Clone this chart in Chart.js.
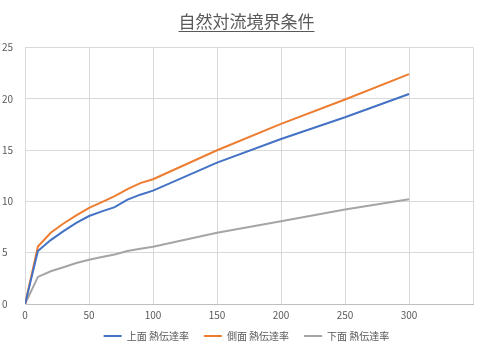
<!DOCTYPE html>
<html>
<head>
<meta charset="utf-8">
<script src="https://cdn.jsdelivr.net/npm/chart.js@4"></script>
<style>
  html, body { margin: 0; padding: 0; background: #fff; }
  #wrap { width: 491px; height: 351px; }
</style>
</head>
<body>
<div id="wrap"><canvas id="chart"></canvas></div>
<script>
// temperature difference (x) and heat transfer coefficients
const xValues = [0, 10, 20, 30, 40, 50, 60, 70, 80, 90, 100, 150, 200, 250, 300];
const topFace = [0, 5.17, 6.23, 7.1, 7.9, 8.57, 9.02, 9.44, 10.17, 10.65, 11.04, 13.77, 16.08, 18.19, 20.46];
const sideFace = [0, 5.6, 6.94, 7.84, 8.63, 9.37, 9.92, 10.5, 11.2, 11.78, 12.16, 14.98, 17.55, 19.92, 22.4];
const bottomFace = [0, 2.64, 3.19, 3.58, 3.99, 4.31, 4.57, 4.82, 5.17, 5.38, 5.58, 6.94, 8.06, 9.2, 10.2];
const seriesNames = ['上面 熱伝達率', '側面 熱伝達率', '下面 熱伝達率'];
const seriesColors = ['#4472C4', '#ED7D31', '#A5A5A5'];
const titleText = '自然対流境界条件';

const FONT = '"Noto Sans CJK JP", "Noto Sans", sans-serif';
const textColor = '#595959';

function toPoints(ys) {
    return xValues.map((x, i) => ({ x: x, y: ys[i] }));
}

// Chart.js has no underline option for the title, so draw one
const titleUnderline = {
    id: 'titleUnderline',
    afterDraw(chart) {
        const tb = chart.titleBlock;
        if (!tb) return;
        const ctx = chart.ctx;
        ctx.save();
        ctx.font = '17px ' + FONT;
        const w = ctx.measureText(titleText).width;
        const cx = (tb.left + tb.right) / 2;
        const y = tb.top + 30;
        ctx.strokeStyle = textColor;
        ctx.lineWidth = 1;
        ctx.beginPath();
        ctx.moveTo(cx - w / 2, y + 0.5);
        ctx.lineTo(cx + w / 2, y + 0.5);
        ctx.stroke();
        ctx.restore();
    }
};

const datasets = [topFace, sideFace, bottomFace].map((ys, i) => ({
    label: seriesNames[i],
    data: toPoints(ys),
    borderColor: seriesColors[i],
    backgroundColor: seriesColors[i],
    borderWidth: 2,
    pointRadius: 0,
    tension: 0,
    fill: false
}));

new Chart(document.getElementById('chart'), {
    type: 'line',
    data: { datasets },
    options: {
        responsive: true,
        maintainAspectRatio: false,
        animation: false,
        layout: { padding: { left: 2, right: 0, top: 1, bottom: 0 } },
        scales: {
            x: {
                type: 'linear',
                min: 0, max: 350,
                ticks: {
                    stepSize: 50,
                    color: textColor,
                    font: { family: FONT, size: 10 },
                    padding: 5,
                    callback: v => (v === 350 ? '' : v)
                },
                grid: { color: '#d9d9d9', drawTicks: false },
                border: { color: '#bfbfbf' }
            },
            y: {
                min: 0, max: 25,
                ticks: {
                    stepSize: 5,
                    color: textColor,
                    font: { family: FONT, size: 10 },
                    padding: 6,
                    crossAlign: 'far'
                },
                grid: { color: '#d9d9d9', drawTicks: false },
                border: { color: '#d9d9d9' }
            },
            // empty right-hand spacer so the title stays centred on the canvas
            spacer: {
                type: 'linear',
                position: 'right',
                min: 0, max: 1,
                grid: { display: false },
                border: { display: false },
                ticks: { display: false },
                afterFit: s => { s.width = 18; }
            }
        },
        plugins: {
            title: {
                display: true,
                text: titleText,
                color: textColor,
                font: { family: FONT, size: 17, weight: 'normal' },
                padding: { top: 10, bottom: 16 }
            },
            legend: {
                position: 'bottom',
                labels: {
                    usePointStyle: true,
                    pointStyle: 'line',
                    pointStyleWidth: 18,
                    color: textColor,
                    font: { family: FONT, size: 10 },
                    padding: 5,
                    // wider gap between entries without growing the legend's height
                    generateLabels(chart) {
                        const items = Chart.defaults.plugins.legend.labels.generateLabels(chart);
                        items.forEach((it, i) => {
                            if (i < items.length - 1) it.text += '\u3000';
                        });
                        return items;
                    }
                }
            },
            tooltip: { enabled: false }
        }
    },
    plugins: [titleUnderline]
});
</script>
</body>
</html>
